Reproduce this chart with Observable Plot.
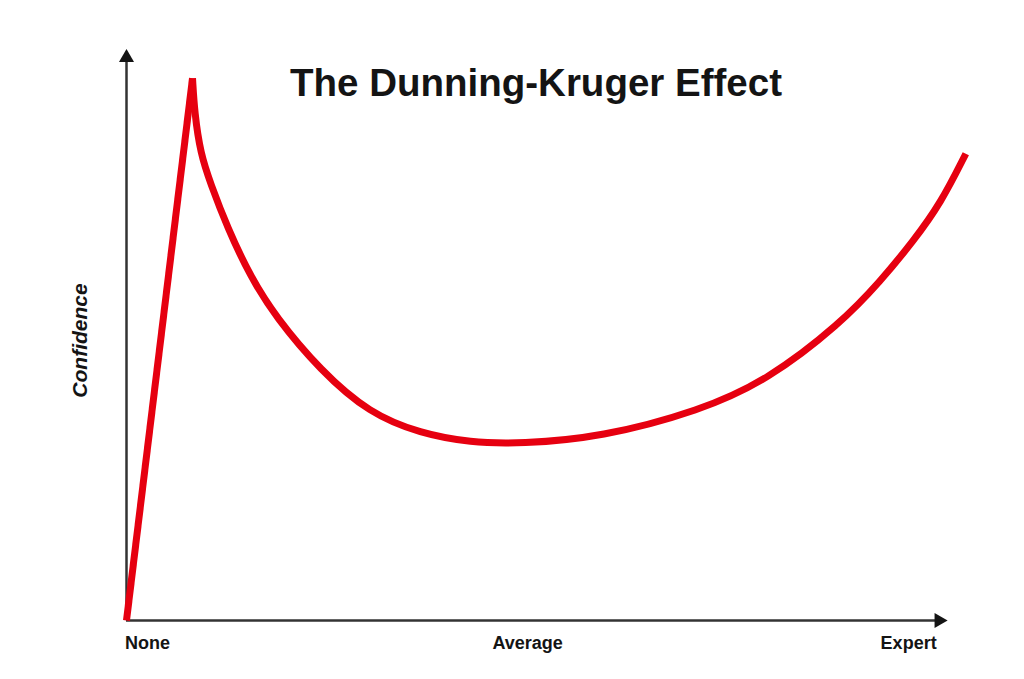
<!DOCTYPE html>
<html>
<head>
<meta charset="utf-8">
<script src="https://cdn.jsdelivr.net/npm/d3@7"></script>
<script src="https://cdn.jsdelivr.net/npm/@observablehq/plot@0.6"></script>
<style>
  html, body { margin: 0; padding: 0; background: #fff; }
  #chart svg { display: block; }
</style>
</head>
<body>
<div id="chart"></div>
<script>
// ---- Data ----
const title = "The Dunning-Kruger Effect";
const yLabel = "Confidence";
const tickLabels = ["None", "Average", "Expert"];
const tickPositions = [2.5, 47.7, 93.0];

// Knowledge / skill (0 = None, 100 = Expert) and confidence (0..100)
const skill =      [0, 7.85, 8.09, 8.80, 9.99, 11.99, 14.74, 17.72, 23.07, 28.9, 34.96, 40.9, 46.85, 56.4, 68.25, 76.2, 84.9, 89.7, 93.6, 96.8, 99.8];
const confidence = [0, 94.8, 88.8, 81.6, 76.4, 68.7, 60.1, 53.1, 43.7, 36.2, 32.7, 31.1, 30.9, 32.0, 36.7, 42.0, 51.9, 59.4, 66.4, 72.9, 81.6];

const points = skill.map((s, i) => ({skill: s, confidence: confidence[i]}));
const rise = points.slice(0, 2);   // straight climb to the peak
const fall = points.slice(1);      // the smooth valley and recovery

const red = "#e60010";
const ink = "#141414";
const axisInk = "#333";
const font = "'Liberation Sans', Arial, Helvetica, sans-serif";

const chart = Plot.plot({
  width: 1024,
  height: 679,
  marginLeft: 126,
  marginRight: 57,
  marginTop: 48,
  marginBottom: 59,
  x: {domain: [0, 100], axis: null},
  y: {domain: [0, 100], axis: null},
  style: {background: "#fff", fontFamily: font, overflow: "visible"},
  marks: [
    // axes with arrowheads
    Plot.ruleY([0], {x1: 0, x2: 96.6, stroke: axisInk, strokeWidth: 2.5}),
    Plot.ruleX([0], {y1: 0, y2: 98.4, stroke: axisInk, strokeWidth: 2.5}),
    Plot.dot([{x: 96.6, y: 0}], {x: "x", y: "y", symbol: "triangle", r: 5.6, fill: ink, stroke: "none", rotate: 90}),
    Plot.dot([{x: 0, y: 98.4}], {x: "x", y: "y", symbol: "triangle", r: 5.6, fill: ink, stroke: "none"}),

    // the curve
    Plot.line(rise, {x: "skill", y: "confidence", stroke: red, strokeWidth: 7, curve: "linear", strokeLinecap: "butt"}),
    Plot.line(fall, {x: "skill", y: "confidence", stroke: red, strokeWidth: 7, curve: "basis", strokeLinecap: "butt", strokeLinejoin: "round"}),

    // x tick labels
    Plot.text(tickLabels, {
      x: (d, i) => tickPositions[i], y: 0, text: d => d,
      dy: 23, fontSize: 18, fontWeight: "bold", fill: ink, textAnchor: "middle"
    }),

    // y label
    Plot.text([yLabel], {
      frameAnchor: "left", text: d => d, rotate: -90, textAnchor: "middle",
      dx: -46, dy: 6, fontSize: 21, fontWeight: "bold", fontStyle: "italic", fill: ink
    }),

    // title
    Plot.text([title], {
      frameAnchor: "top", text: d => d,
      dx: -11, dy: 20, fontSize: 38.5, fontWeight: "bold", fill: ink
    })
  ]
});

document.getElementById("chart").appendChild(chart);
</script>
</body>
</html>
